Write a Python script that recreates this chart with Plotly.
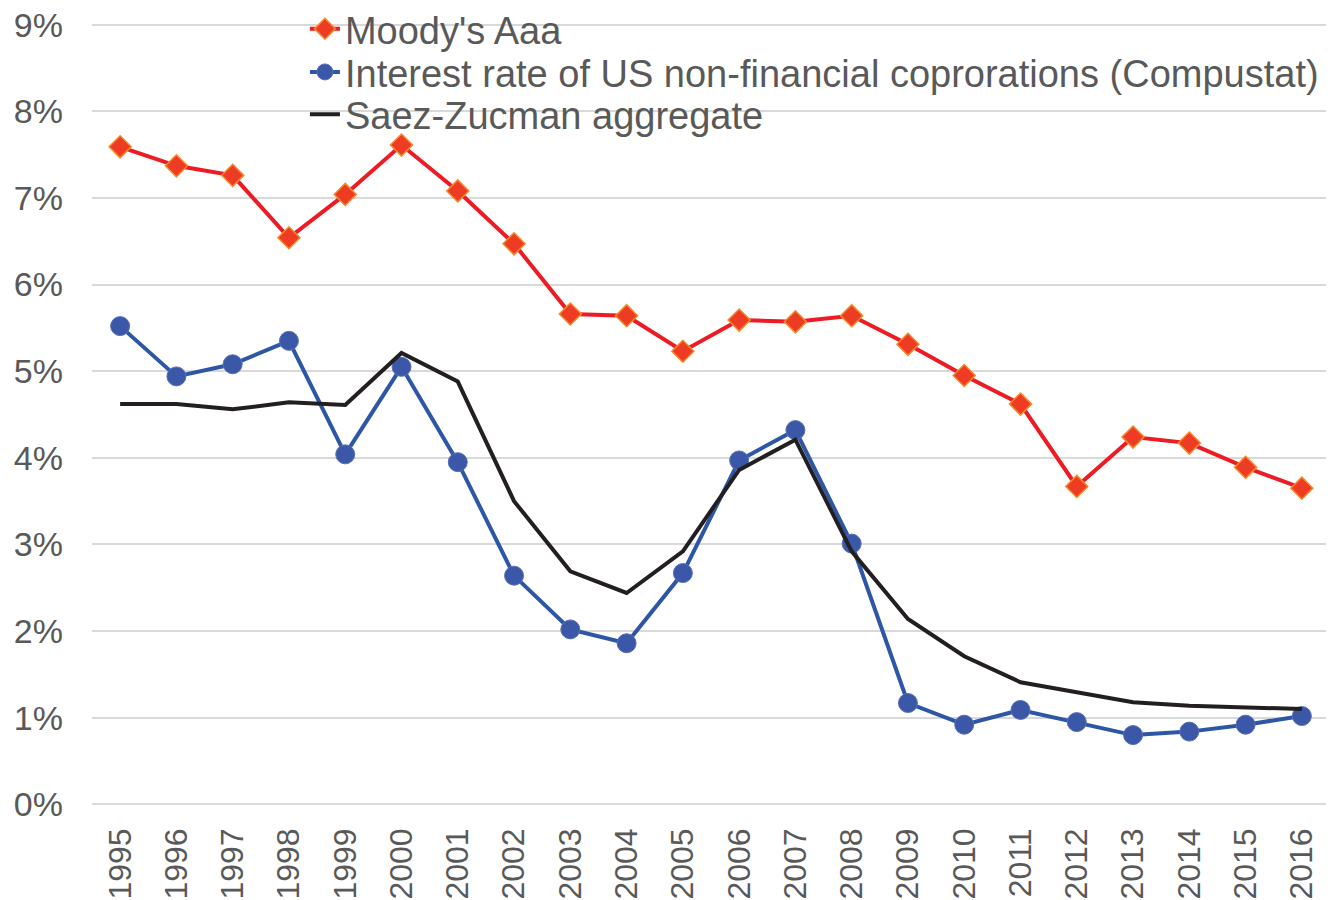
import plotly.graph_objects as go

years = [str(y) for y in range(1995, 2017)]
moodys_aaa = [7.59, 7.37, 7.26, 6.54, 7.04, 7.61, 7.08, 6.47, 5.66, 5.64, 5.23,
              5.59, 5.57, 5.64, 5.31, 4.95, 4.62, 3.67, 4.24, 4.17, 3.89, 3.65]
compustat = [5.52, 4.94, 5.08, 5.35, 4.04, 5.05, 3.95, 2.64, 2.02, 1.86, 2.67,
             3.97, 4.32, 3.01, 1.17, 0.92, 1.09, 0.95, 0.80, 0.84, 0.92, 1.02]
saez_zucman = [4.62, 4.62, 4.56, 4.64, 4.61, 5.21, 4.88, 3.50, 2.69, 2.44, 2.92,
               3.86, 4.21, 2.92, 2.14, 1.71, 1.41, 1.29, 1.18, 1.14, 1.12, 1.10]
y_ticks = [0, 1, 2, 3, 4, 5, 6, 7, 8, 9]
y_tick_labels = [f"{v}%" for v in y_ticks]

FONT = "Liberation Sans, Arial, sans-serif"
GREY = "#595959"

fig = go.Figure()
fig.add_trace(go.Scatter(
    x=years, y=moodys_aaa, name="Moody's Aaa", mode="lines+markers",
    line=dict(color="#ED1C24", width=4),
    marker=dict(symbol="diamond", size=17, color="#EE3B24",
                line=dict(color="#F58A2A", width=1.5)),
    legend="legend", showlegend=True))
fig.add_trace(go.Scatter(
    x=years, y=compustat, name="Interest rate of US non-financial coprorations (Compustat)",
    mode="lines+markers",
    line=dict(color="#2D56A5", width=4),
    marker=dict(symbol="circle", size=19, color="#3A57A8",
                line=dict(color="#5A70B6", width=1)),
    legend="legend2", showlegend=True))
fig.add_trace(go.Scatter(
    x=years, y=saez_zucman, name="Saez-Zucman aggregate", mode="lines",
    line=dict(color="#231F20", width=4),
    legend="legend3", showlegend=True))

leg_common = dict(font=dict(family=FONT, size=38, color=GREY),
                  bgcolor="rgba(0,0,0,0)", xanchor="left", yanchor="middle",
                  x=0.172)

fig.update_layout(
    width=1334, height=900,
    margin=dict(l=84, r=12, t=14, b=101, autoexpand=False),
    showlegend=True,
    paper_bgcolor="white", plot_bgcolor="white",
    font=dict(family=FONT, color=GREY),
    legend=dict(**leg_common, y=0.991),
    legend2=dict(**leg_common, y=0.936),
    legend3=dict(**leg_common, y=0.882),
    xaxis=dict(type="category", range=[-0.5, 21.5], tickangle=-90,
               showgrid=False, showline=False, automargin=False,
               ticks="", tickfont=dict(family=FONT, size=32, color=GREY),
               ticklabelstandoff=14, ticklabeloverflow="allow"),
    yaxis=dict(range=[-0.03, 9.03], tickvals=y_ticks, ticktext=y_tick_labels,
               showgrid=True, gridcolor="#D9D9D9", gridwidth=2, zeroline=False,
               showline=False, ticks="", automargin=False,
               tickfont=dict(family=FONT, size=34, color=GREY),
               ticklabelstandoff=28, ticklabeloverflow="allow"),
)

fig.write_html("out.html")
